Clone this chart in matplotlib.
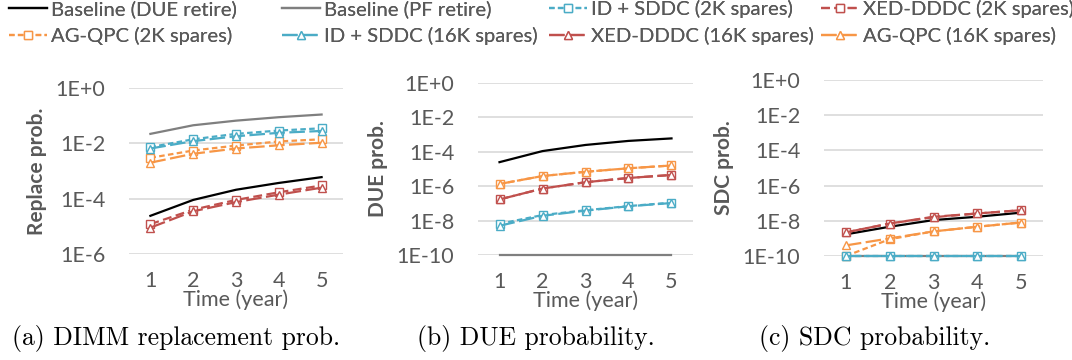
import numpy as np
import matplotlib
matplotlib.use("Agg")
import matplotlib.pyplot as plt

# years on the x axis
years = [1, 2, 3, 4, 5]

series_names = ["Baseline (DUE retire)", "Baseline (PF retire)",
                "ID + SDDC (2K spares)", "XED-DDDC (2K spares)", "AG-QPC (2K spares)",
                "ID + SDDC (16K spares)", "XED-DDDC (16K spares)", "AG-QPC (16K spares)"]

# (a) DIMM replacement probability
replace_due = [2.4e-5, 9e-5, 2.1e-4, 3.7e-4, 6e-4]
replace_pf = [0.022, 0.045, 0.066, 0.088, 0.11]
replace_id_2k = [0.0073, 0.014, 0.022, 0.029, 0.035]
replace_xed_2k = [1.2e-5, 4e-5, 9e-5, 1.7e-4, 3e-4]
replace_ag_2k = [0.003, 0.0055, 0.0083, 0.0117, 0.014]
replace_id_16k = [0.0065, 0.012, 0.018, 0.024, 0.028]
replace_xed_16k = [9e-6, 3.5e-5, 7.5e-5, 1.4e-4, 2.5e-4]
replace_ag_16k = [0.002, 0.0042, 0.0065, 0.0085, 0.0105]

# (b) DUE probability
due_due = [2.5e-5, 1.1e-4, 2.5e-4, 4.3e-4, 6e-4]
due_pf = [1e-10, 1e-10, 1e-10, 1e-10, 1e-10]
due_id_2k = [6.5e-9, 2.1e-8, 4e-8, 7e-8, 1.1e-7]
due_xed_2k = [1.7e-7, 7.3e-7, 1.7e-6, 3e-6, 4.5e-6]
due_ag_2k = [1.35e-6, 3.9e-6, 6.9e-6, 1.1e-5, 1.6e-5]
due_id_16k = [5e-9, 1.9e-8, 3.8e-8, 6.8e-8, 1.05e-7]
due_xed_16k = [1.7e-7, 7.3e-7, 1.7e-6, 3e-6, 4.5e-6]
due_ag_16k = [1.35e-6, 3.9e-6, 6.9e-6, 1.1e-5, 1.6e-5]

# (c) SDC probability
sdc_due = [1.7e-9, 4.6e-9, 1.1e-8, 1.7e-8, 2.9e-8]
sdc_pf = [1e-10, 1e-10, 1e-10, 1e-10, 1e-10]
sdc_id_2k = [1e-10, 1e-10, 1e-10, 1e-10, 1e-10]
sdc_xed_2k = [2.2e-9, 7e-9, 1.6e-8, 2.6e-8, 4e-8]
sdc_ag_2k = [1e-10, 9e-10, 2.5e-9, 4.6e-9, 8e-9]
sdc_id_16k = [1e-10, 1e-10, 1e-10, 1e-10, 1e-10]
sdc_xed_16k = [2.2e-9, 7e-9, 1.7e-8, 2.6e-8, 4e-8]
sdc_ag_16k = [4e-10, 1e-9, 2.5e-9, 4.6e-9, 8e-9]

panels = [
    ([replace_due, replace_pf, replace_id_2k, replace_xed_2k, replace_ag_2k,
      replace_id_16k, replace_xed_16k, replace_ag_16k], "Replace prob.", ["1E+0", "1E-2", "1E-4", "1E-6"], 1e-6,
     "(a) DIMM replacement prob."),
    ([due_due, due_pf, due_id_2k, due_xed_2k, due_ag_2k,
      due_id_16k, due_xed_16k, due_ag_16k], "DUE prob.", ["1E+0", "1E-2", "1E-4", "1E-6", "1E-8", "1E-10"], 1e-10,
     "(b) DUE probability."),
    ([sdc_due, sdc_pf, sdc_id_2k, sdc_xed_2k, sdc_ag_2k,
      sdc_id_16k, sdc_xed_16k, sdc_ag_16k], "SDC prob.", ["1E+0", "1E-2", "1E-4", "1E-6", "1E-8", "1E-10"], 1e-10,
     "(c) SDC probability."),
]

blue = "#4BACC6"
red = "#C0504D"
orange = "#F79646"
styles = [
    dict(color="black", ls="-", marker=None),
    dict(color="#7F7F7F", ls="-", marker=None),
    dict(color=blue, ls=(0, (2.5, 1.5)), marker="s"),
    dict(color=red, ls=(0, (4, 2)), marker="s"),
    dict(color=orange, ls=(0, (2.5, 1.5)), marker="s"),
    dict(color=blue, ls=(0, (7, 2)), marker="^"),
    dict(color=red, ls=(0, (7, 2)), marker="^"),
    dict(color=orange, ls=(0, (7, 2)), marker="^"),
]
draw_order = [1, 0, 4, 7, 3, 6, 2, 5]

plt.rcParams['font.family'] = ['Lato', 'DejaVu Sans']
txt = "#595959"
W, H = 1072, 360
fig = plt.figure(figsize=(W / 100, H / 100), dpi=100)

# axes boxes in pixels: left, right, top, bottom
boxes = [(129, 343, 88, 254), (478, 693, 83, 255), (824, 1043, 80, 256)]
caption_x = [176, 536, 875]

handles = [None] * 8
for (data, ylabel, ticklabels, ymin, caption), (l, r, t, b), cx in zip(panels, boxes, caption_x):
    ax = fig.add_axes([l / W, 1 - b / H, (r - l) / W, (b - t) / H])
    ax.set_yscale("log")
    for i in draw_order:
        st = styles[i]
        ln, = ax.plot(years, data[i], color=st["color"], linestyle=st["ls"], lw=1.6,
                      marker=st["marker"], markersize=6, markerfacecolor="white",
                      markeredgecolor=st["color"], markeredgewidth=1.0, label=series_names[i],
                      clip_on=False)
        handles[i] = ln
    ax.set_xlim(0.5, 5.5)
    ax.set_ylim(ymin, 1)
    ticks = [10.0 ** (-2 * k) for k in range(len(ticklabels))]
    ax.set_yticks(ticks)
    ax.set_yticklabels(ticklabels)
    ax.yaxis.set_minor_locator(matplotlib.ticker.NullLocator())
    ax.set_xticks(years)
    ax.grid(axis="y", color="#D9D9D9", lw=1.2)
    ax.set_axisbelow(True)
    for s in ax.spines.values():
        s.set_visible(False)
    ax.tick_params(length=0, labelsize=15.5, colors=txt)
    ax.tick_params(axis="y", pad=17)
    ax.tick_params(axis="x", pad=12)
    ax.set_xlabel("Time (year)", fontsize=15.5, color=txt, labelpad=-1)
    ax.set_ylabel(ylabel, fontsize=15, color=txt, fontweight="bold", labelpad=6)
    fig.text(cx / W, 1 - 339 / H, caption, ha="center", va="center", fontsize=18.5, family="cmr10")

# legend: two rows, four columns, placed column by column
col_x = [9, 282, 549, 821]
columns = [[0, 4], [1, 5], [2, 6], [3, 7]]
for x, col in zip(col_x, columns):
    leg = fig.legend([handles[i] for i in col], [series_names[i] for i in col],
                     loc="upper left", bbox_to_anchor=(x / W, 1.0), frameon=False, fontsize=14.6,
                     handlelength=1.85, handletextpad=0.2, labelspacing=0.45,
                     labelcolor=txt, borderaxespad=0.0, borderpad=0.0)
    fig.add_artist(leg)

fig.savefig("out.png", dpi=100)
